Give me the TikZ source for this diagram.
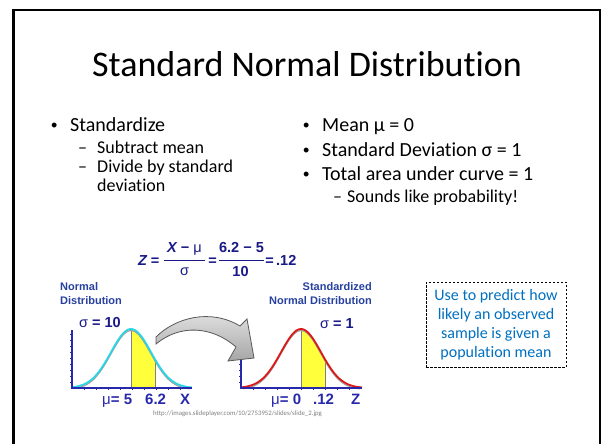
\documentclass[tikz,border=0pt]{standalone}
\usepackage{fontspec}
\setmainfont{Carlito}[Ligatures={NoCommon}]
\newfontfamily\arial{Liberation Sans}
\definecolor{navyf}{RGB}{25,25,135}
\definecolor{lblblue}{RGB}{40,65,160}
\definecolor{axisblue}{RGB}{40,40,170}
\definecolor{cyanc}{RGB}{40,215,230}
\definecolor{redc}{RGB}{220,25,25}
\definecolor{yel}{RGB}{255,255,60}
\definecolor{boxblue}{RGB}{0,112,192}
\definecolor{urlgray}{RGB}{128,128,128}
\tikzset{
  txt/.style={inner sep=0, anchor=base west},
  lone/.style={txt, font=\fontsize{20}{24}\selectfont},
  ltwo/.style={txt, font=\fontsize{18}{21}\selectfont},
  bul/.style={txt, font=\arial\fontsize{18}{24}\selectfont},
  fml/.style={inner sep=0, anchor=base, text=navyf, font=\arial\bfseries\fontsize{14.5}{16}\selectfont},
  chartlbl/.style={inner sep=0, text=lblblue, font=\arial\bfseries\fontsize{11}{13}\selectfont},
  sigmalbl/.style={inner sep=0, anchor=base west, text=navyf, font=\arial\bfseries\fontsize{14.5}{17}\selectfont},
  axlbl/.style={inner sep=0, anchor=base west, text=axisblue, font=\arial\bfseries\fontsize{15}{17}\selectfont},
  axisline/.style={axisblue, line width=1.4},
  tickline/.style={axisblue, line width=0.6},
  fracbar/.style={navyf, line width=1.2},
  shadowline/.style={gray!75, line width=1.2},
  markline/.style={gray, line width=0.8},
}
\begin{document}
\begin{tikzpicture}[x=1pt,y=-1pt]
\useasboundingbox (0,0) rectangle (602,444);
\fill[white] (0,0) rectangle (602,444);
% slide frame
\draw[line width=2.2] (13.5,460) -- (13.5,10) -- (600,10) -- (600,460);

% title
\node[inner sep=0, anchor=base, font=\fontsize{36}{43}\selectfont] (title) at (307,76) {Standard Normal Distribution};

% left column
\node[bul] (b1) at (51,131.5) {•};
\node[lone] (t1) at (70,131.5) {Standardize};
\node[ltwo] (d1) at (78,153) {–};
\node[ltwo] (t2) at (97,153) {Subtract mean};
\node[ltwo] (d2) at (78,172.5) {–};
\node[ltwo] (t3) at (97,172.5) {Divide by standard};
\node[ltwo] (t4) at (97,191) {deviation};

% right column
\node[bul] (b2) at (303,131.5) {•};
\node[lone] (t5) at (322,131.5) {Mean µ = 0};
\node[bul] (b3) at (303,156) {•};
\node[lone] (t6) at (322,156) {Standard Deviation σ = 1};
\node[bul] (b4) at (303,180.5) {•};
\node[lone] (t7) at (322,180.5) {Total area under curve = 1};
\node[ltwo] (d3) at (333,202.5) {–};
\node[ltwo] (t8) at (347,202.5) {Sounds like probability!};

% formula
\node[fml, anchor=base west] (fz) at (138,265) {\itshape Z};
\node[fml] (fe1) at (155,265) {=};
\node[fml] (fn1) at (184.5,252) {{\itshape X} − {\mdseries μ}};
\draw[fracbar] (164,260.5) -- (205,260.5);
\node[fml] (fd1) at (184.5,275.5) {\mdseries σ};
\node[fml] (fe2) at (212.5,265) {=};
\node[fml] (fn2) at (241.5,252) {6.2 − 5};
\draw[fracbar] (219,260.5) -- (264,260.5);
\node[fml] (fd2) at (240.5,276) {10};
\node[fml] (fe3) at (269.5,265) {=};
\node[fml, anchor=base west] (fv) at (276,265) {.12};

% chart labels
\node[chartlbl, anchor=base west] (nl1) at (60,290) {Normal};
\node[chartlbl, anchor=base west] (nl2) at (60,304) {Distribution};
\node[chartlbl, anchor=base east] (sl1) at (372,290) {Standardized};
\node[chartlbl, anchor=base east] (sl2) at (372,304) {Normal Distribution};
\node[sigmalbl] (s10) at (79,327) {{\mdseries σ} = 10};
\node[sigmalbl] (s1) at (320,328) {{\mdseries σ} = 1};

% left chart
\fill[yel] (131,388) -- plot[domain=131:155,samples=30] (\x,{388-59*exp(((\x-131)*(\x-131))/(-800))}) -- (155,388) -- cycle;
\draw[markline] (131,388) -- (131,329);
\draw[markline] (155,388) -- (155,359.3);
\draw[shadowline, shift={(0,1.6)}] plot[domain=74:190,samples=90,smooth] (\x,{388-59*exp(((\x-131)*(\x-131))/(-800))});
\draw[cyanc, line width=1.8] plot[domain=72:192,samples=90,smooth] (\x,{388-59*exp(((\x-131)*(\x-131))/(-800))});
\draw[axisline] (72,330) -- (72,388) -- (192,388);
\foreach \yy in {334,340,...,384} \draw[tickline] (70,\yy) -- (72,\yy);
\foreach \xx in {84,96,...,180} \draw[tickline] (\xx,388) -- (\xx,390);

% right chart
\fill[yel] (301,388) -- plot[domain=301:325,samples=30] (\x,{388-59*exp(((\x-301)*(\x-301))/(-800))}) -- (325,388) -- cycle;
\draw[markline] (301,388) -- (301,329);
\draw[markline] (325,388) -- (325,359.3);
\draw[shadowline, shift={(0,1.6)}] plot[domain=243:360,samples=90,smooth] (\x,{388-59*exp(((\x-301)*(\x-301))/(-800))});
\draw[redc, line width=1.8] plot[domain=241:362,samples=90,smooth] (\x,{388-59*exp(((\x-301)*(\x-301))/(-800))});
\draw[axisline] (241,340) -- (241,388) -- (362,388);
\foreach \yy in {346,352,...,384} \draw[tickline] (239,\yy) -- (241,\yy);
\foreach \xx in {253,265,...,349} \draw[tickline] (\xx,388) -- (\xx,390);

% curved arrow
\shade[top color=gray!20, bottom color=gray!70, draw=black!65, line width=0.8]
  (156,337) .. controls (175,318) and (210,308) .. (240,326)
  -- (247,319) -- (254,358) -- (228,361) -- (236,347)
  .. controls (212,326) and (180,324) .. (156,344) -- cycle;

% axis labels
\node[axlbl] (m5) at (102,404) {{\mdseries μ}= 5};
\node[axlbl] (v62) at (145,404) {6.2};
\node[axlbl] (lx) at (180,404) {X};
\node[axlbl] (m0) at (271,404) {{\mdseries μ}= 0};
\node[axlbl] (v12) at (313,404) {.12};
\node[axlbl] (lz) at (351,404) {Z};

% url
\node[inner sep=0, anchor=base west, text=urlgray, font=\fontsize{6.8}{8}\selectfont] (url) at (153,415) {http://images.slideplayer.com/10/2753952/slides/slide\_2.jpg};

% note box
\node[draw, dash pattern=on 2.5pt off 1.5pt, line width=0.9, minimum width=140pt, minimum height=85pt, inner sep=0, align=center, text=boxblue, font=\fontsize{16}{19}\selectfont] (box) at (496,324.5) {Use to predict how\\likely an observed\\sample is given a\\population mean};
\end{tikzpicture}
\end{document}
